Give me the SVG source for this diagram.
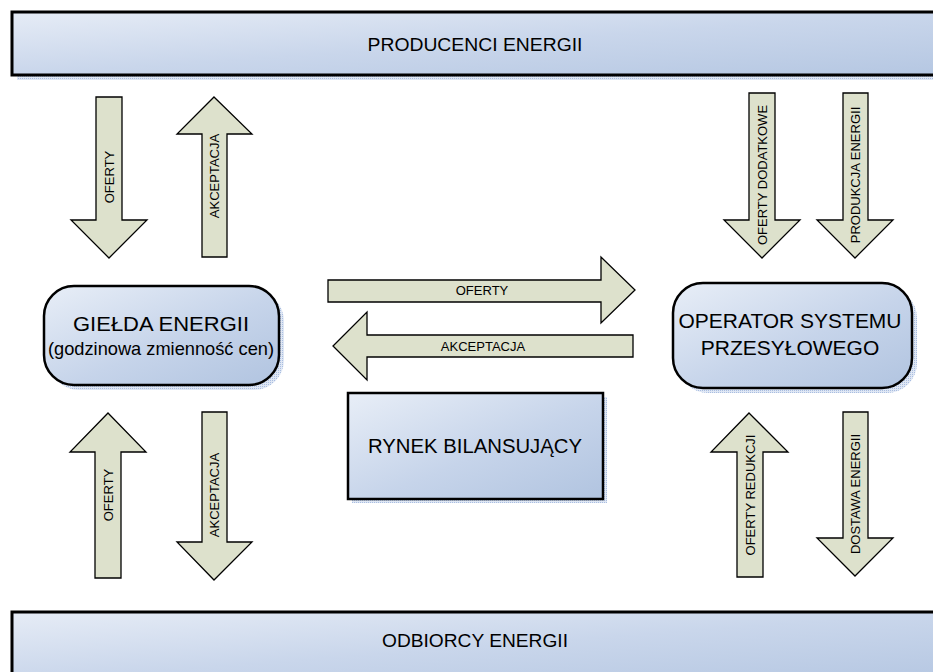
<svg xmlns="http://www.w3.org/2000/svg" width="933" height="672" viewBox="0 0 933 672">
  <defs>
    <linearGradient id="boxFill" x1="0" y1="0" x2="1" y2="1">
      <stop offset="0" stop-color="#e8eef7"/>
      <stop offset="0.55" stop-color="#c6d4ea"/>
      <stop offset="1" stop-color="#b1c4e0"/>
    </linearGradient>
    <linearGradient id="barFill" x1="0" y1="0" x2="1" y2="1" gradientUnits="objectBoundingBox">
      <stop offset="0" stop-color="#e6ecf6"/>
      <stop offset="0.5" stop-color="#c9d6eb"/>
      <stop offset="1" stop-color="#b5c7e2"/>
    </linearGradient>
    <pattern id="shadowDots" width="2" height="2" patternUnits="userSpaceOnUse">
      <rect width="2" height="2" fill="#dfe7f4"/>
      <rect width="1" height="1" fill="#a9bde0"/>
    </pattern>
    <style>
      .node { stroke: #000; stroke-width: 2.5; }
      .bar { stroke: #000; stroke-width: 3; }
      .shadow { fill: url(#shadowDots); stroke: none; }
      .arrow { fill: #dde1cc; stroke: #000; stroke-width: 1.3; stroke-linejoin: miter; }
      .lbl { font-family: "Liberation Sans", Arial, sans-serif; fill: #000; text-anchor: middle; }
      .small { font-size: 13px; }
    </style>
  </defs>

  <!-- top bar: producers -->
  <g id="producenci">
    <rect class="shadow" x="17" y="17" width="930" height="63"/>
    <rect class="bar" x="12" y="12" width="930" height="63" fill="url(#barFill)"/>
    <text class="lbl" x="475" y="51" font-size="19" textLength="215" lengthAdjust="spacingAndGlyphs">PRODUCENCI ENERGII</text>
  </g>

  <!-- bottom bar: consumers -->
  <g id="odbiorcy">
    <rect class="bar" x="12" y="612" width="930" height="70" fill="url(#barFill)"/>
    <text class="lbl" x="475" y="647" font-size="19" textLength="186" lengthAdjust="spacingAndGlyphs">ODBIORCY ENERGII</text>
  </g>

  <!-- power exchange -->
  <g id="gielda">
    <rect class="shadow" x="49" y="291" width="235" height="99" rx="30"/>
    <rect class="node" x="44" y="286" width="235" height="99" rx="30" fill="url(#boxFill)"/>
    <text class="lbl" x="161" y="331" font-size="20" textLength="176" lengthAdjust="spacingAndGlyphs">GIEŁDA ENERGII</text>
    <text class="lbl" x="161" y="355" font-size="19" textLength="226" lengthAdjust="spacingAndGlyphs">(godzinowa zmienność cen)</text>
  </g>

  <!-- balancing market -->
  <g id="rynek">
    <rect class="shadow" x="352" y="397" width="255" height="106"/>
    <rect class="node" x="348" y="393" width="255" height="106" fill="url(#boxFill)"/>
    <text class="lbl" x="475" y="453" font-size="20" textLength="214" lengthAdjust="spacingAndGlyphs">RYNEK BILANSUJĄCY</text>
  </g>

  <!-- transmission system operator -->
  <g id="operator">
    <rect class="shadow" x="678" y="288" width="239" height="105" rx="30"/>
    <rect class="node" x="673" y="283" width="239" height="105" rx="30" fill="url(#boxFill)"/>
    <text class="lbl" x="790" y="328" font-size="21" textLength="223" lengthAdjust="spacingAndGlyphs">OPERATOR SYSTEMU</text>
    <text class="lbl" x="790" y="355" font-size="21">PRZESYŁOWEGO</text>
  </g>

  <!-- block arrows -->
  <g id="connectors">
    <!-- producers -> exchange -->
    <polygon class="arrow" points="96,97 122,97 122,220 147,220 109,258 71,220 96,220"/>
    <text class="lbl small" transform="translate(109,177) rotate(-90)" y="4.6">OFERTY</text>
    <!-- exchange -> producers -->
    <polygon class="arrow" points="214,97 252,134 227,134 227,257 202,257 202,134 177,134"/>
    <text class="lbl small" transform="translate(214,176) rotate(-90)" y="4.6">AKCEPTACJA</text>

    <!-- producers -> operator -->
    <polygon class="arrow" points="749,93 775,93 775,220 800,220 762,258 724,220 749,220"/>
    <text class="lbl small" transform="translate(762,175) rotate(-90)" y="4.6">OFERTY DODATKOWE</text>
    <polygon class="arrow" points="843,93 868,93 868,220 893,220 855,258 817,220 843,220"/>
    <text class="lbl small" transform="translate(855,175) rotate(-90)" y="4.6">PRODUKCJA ENERGII</text>

    <!-- exchange <-> operator -->
    <polygon class="arrow" points="328,280 601,280 601,257 635,290 601,323 601,302 328,302"/>
    <text class="lbl small" x="482" y="295">OFERTY</text>
    <polygon class="arrow" points="633,335 367,335 367,312 333,346 367,380 367,357 633,357"/>
    <text class="lbl small" x="483" y="351">AKCEPTACJA</text>

    <!-- consumers -> exchange -->
    <polygon class="arrow" points="108,413 146,452 121,452 121,578 95,578 95,452 70,452"/>
    <text class="lbl small" transform="translate(108,495) rotate(-90)" y="4.6">OFERTY</text>
    <!-- exchange -> consumers -->
    <polygon class="arrow" points="202,412 227,412 227,542 252,542 214,580 177,542 202,542"/>
    <text class="lbl small" transform="translate(214,495) rotate(-90)" y="4.6">AKCEPTACJA</text>

    <!-- consumers -> operator -->
    <polygon class="arrow" points="749,413 788,452 763,452 763,577 737,577 737,452 711,452"/>
    <text class="lbl small" transform="translate(750,495) rotate(-90)" y="4.6">OFERTY REDUKCJI</text>
    <!-- operator -> consumers -->
    <polygon class="arrow" points="843,412 868,412 868,538 893,538 855,576 817,538 843,538"/>
    <text class="lbl small" transform="translate(855,494) rotate(-90)" y="4.6">DOSTAWA ENERGII</text>
  </g>
</svg>
